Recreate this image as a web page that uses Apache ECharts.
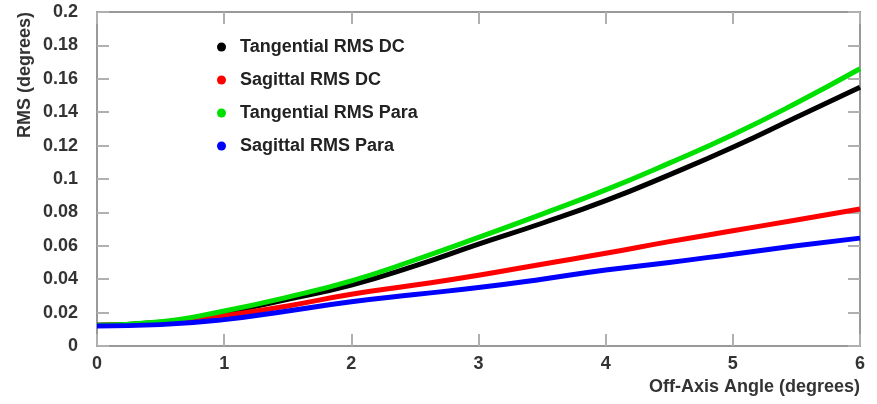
<!DOCTYPE html>
<html><head><meta charset="utf-8">
<script src="https://cdn.jsdelivr.net/npm/echarts@6/dist/echarts.min.js"></script>
<style>html,body{margin:0;padding:0;background:#fff}#c{width:877px;height:404px}</style>
</head><body><div id="c"></div>
<script>
var xs = [0,0.5,1,1.5,2,2.5,3,3.5,4,4.5,5,5.5,6];
var tangDC   = [0.0125,0.0142,0.0200,0.0280,0.0365,0.0480,0.0610,0.0735,0.0870,0.1025,0.1190,0.1370,0.1550];
var sagDC    = [0.0125,0.0135,0.0182,0.0240,0.0310,0.0365,0.0424,0.0490,0.0555,0.0625,0.0690,0.0755,0.0820];
var tangPara = [0.0125,0.0145,0.0210,0.0293,0.0390,0.0515,0.0650,0.0790,0.0935,0.1095,0.1265,0.1455,0.1660];
var sagPara  = [0.0120,0.0128,0.0158,0.0210,0.0265,0.0308,0.0350,0.0400,0.0455,0.0500,0.0550,0.0600,0.0646];
var names = ['Tangential RMS DC','Sagittal RMS DC','Tangential RMS Para','Sagittal RMS Para'];
var colors = ['#000000','#ff0000','#00e000','#0000ff'];
var sets = [tangDC, sagDC, tangPara, sagPara];
function pairs(a){return xs.map(function(x,i){return [x,a[i]];});}
var font = 'Liberation Sans, Arial, sans-serif';
function aLine(){return {show:true,onZero:false,lineStyle:{color:'#999',width:2}};}
function aTick(){return {show:true,inside:true,length:12,lineStyle:{color:'#b0b0b0',width:2}};}
var chart = echarts.init(document.getElementById('c'));
chart.setOption({
  animation:false,
  grid:{left:97,right:17,top:12,bottom:58},
  legend:{orient:'vertical',left:212,top:33,itemGap:15,icon:'circle',itemWidth:9,itemHeight:9,
    textStyle:{fontFamily:font,fontWeight:'bold',fontSize:18,color:'#222',padding:[0,0,0,9]},
    data:names.map(function(n,i){return {name:n,itemStyle:{color:colors[i]}};})},
  xAxis:[
    {type:'value',min:0,max:6,interval:1,position:'bottom',axisLine:aLine(),axisTick:aTick(),splitLine:{show:false},
     axisLabel:{fontFamily:font,fontWeight:'bold',fontSize:18,color:'#333',margin:9},
     name:'Off-Axis Angle (degrees)',nameLocation:'end',nameGap:0,
     nameTextStyle:{fontFamily:font,fontWeight:'bold',fontSize:18,color:'#333',align:'right',verticalAlign:'top',padding:[32,0,0,0]}},
    {type:'value',min:0,max:6,interval:1,position:'top',axisLine:aLine(),axisTick:aTick(),axisLabel:{show:false},splitLine:{show:false}}
  ],
  yAxis:[
    {type:'value',min:0,max:0.2,interval:0.02,position:'left',axisLine:aLine(),axisTick:aTick(),splitLine:{show:false},
     axisLabel:{fontFamily:font,fontWeight:'bold',fontSize:18,color:'#333',margin:19},
     name:'RMS (degrees)',nameLocation:'end',nameRotate:90,nameGap:0,
     nameTextStyle:{fontFamily:font,fontWeight:'bold',fontSize:18,color:'#333',align:'right',verticalAlign:'bottom',padding:[0,0,63,0]}},
    {type:'value',min:0,max:0.2,interval:0.02,position:'right',axisLine:aLine(),axisTick:aTick(),axisLabel:{show:false},splitLine:{show:false}}
  ],
  series:sets.map(function(a,i){return {name:names[i],type:'line',xAxisIndex:0,yAxisIndex:0,data:pairs(a),smooth:true,symbol:'none',
    itemStyle:{color:colors[i]},lineStyle:{color:colors[i],width:5}};})
});
</script>
</body></html>
